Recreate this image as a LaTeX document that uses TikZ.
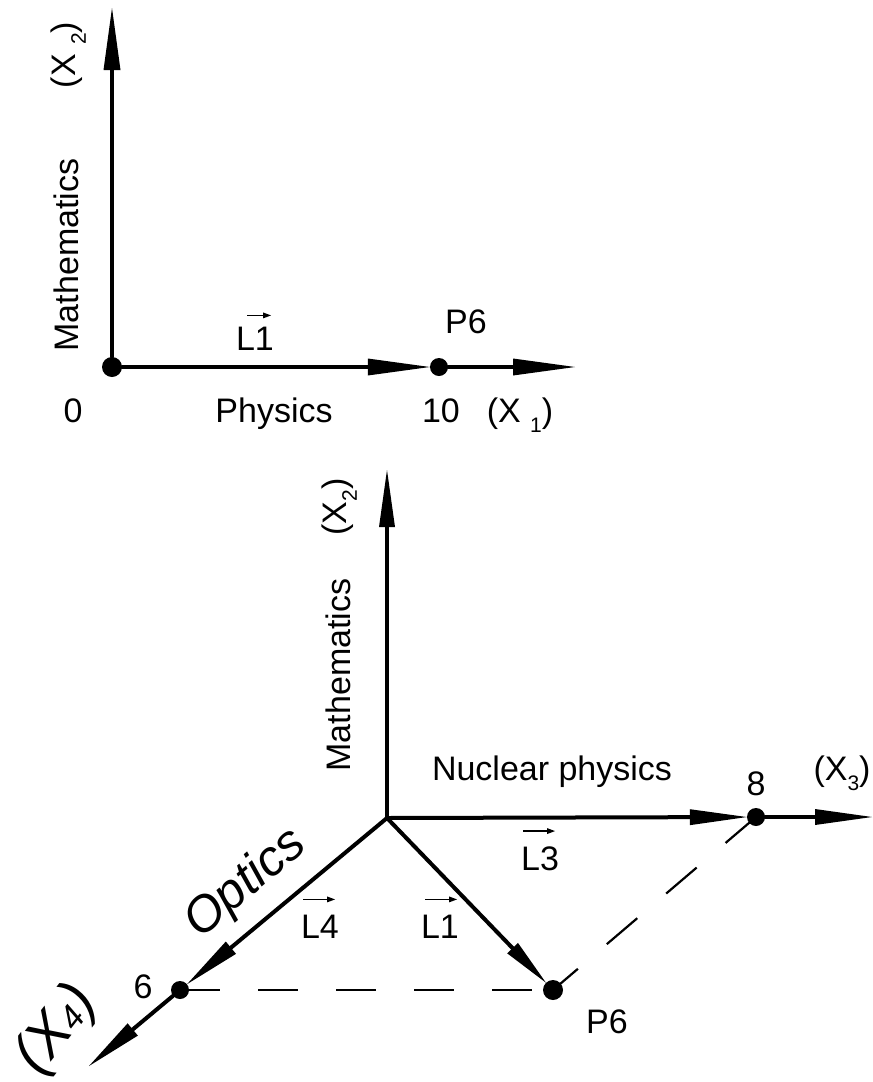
\documentclass[tikz,border=0pt]{standalone}
\usepackage{fontspec}
\setmainfont{Liberation Sans}
\usetikzlibrary{arrows.meta,backgrounds}
\newcommand{\sbs}[1]{\raisebox{-0.32em}{\fontsize{21}{21}\selectfont #1}}
\newcommand{\sbx}[1]{\raisebox{-0.02em}{\fontsize{34}{34}\selectfont\itshape #1}}
\begin{document}
\begin{tikzpicture}[x=1pt,y=-1pt,
  axis/.style={line width=4pt,line cap=round},
  tipA/.style={-{Triangle[length=62pt,width=17pt,line width=0pt]}},
  tipC/.style={-{Triangle[length=57pt,width=16pt,line width=0pt]}},
  tipD/.style={-{Triangle[length=48pt,width=15pt,line width=0pt]}},
  blob/.style={circle,fill=black,inner sep=0pt,minimum size=18pt},
  lab/.style={inner sep=0pt,font=\fontsize{34}{40}\selectfont},
  slab/.style={inner sep=0pt,font=\fontsize{50}{56}\selectfont\itshape},
  xlab/.style={inner sep=0pt,font=\fontsize{57}{62}\selectfont\itshape},
  vecarr/.style={line width=1.4pt,-{Triangle[length=8pt,width=6pt,line width=0pt]}},
  dsh/.style={line width=2.2pt,dash pattern=on 40pt off 38pt}]
\useasboundingbox (0,0) rectangle (873,1082);

% ---------- top diagram ----------
\node[blob,minimum size=20pt] (o1) at (112,367) {};
\node[blob] (p6t) at (439,367) {};
\coordinate (x2t) at (112,8);
\coordinate (x1t) at (575,367);
\draw[axis,tipA] (o1) -- (x2t);
\draw[axis,tipA] (o1) -- (p6t);
\draw[axis,tipA] (p6t) -- (x1t);

\node[lab,anchor=base,rotate=90] (matht) at (78,255) {Mathematics};
\node[lab,anchor=base,rotate=90] (x2lt) at (75,55) {(X \sbs{2})};
\node[lab,anchor=base] (zero) at (73,422) {0};
\node[lab,anchor=base] (phys) at (274,422) {Physics};
\node[lab,anchor=base] (ten) at (441,422) {10};
\node[lab,anchor=base] (x1l) at (520,422) {(X \sbs{1})};
\node[lab,anchor=base] (l1t) at (255,350) {L1};
\node[lab,anchor=base] (p6lt) at (466,333) {P6};
\draw[vecarr] ([xshift=-8pt,yshift=11pt]l1t.north) -- ([xshift=16pt,yshift=11pt]l1t.north);

% ---------- bottom diagram ----------
\coordinate (o2) at (387,818);
\coordinate (x2b) at (387,470);
\node[blob] (d8) at (756,817) {};
\coordinate (x3b) at (872,817);
\node[blob] (d6) at (180,990) {};
\coordinate (x4b) at (89,1066);
\node[blob,minimum size=20pt] (p6b) at (553,990) {};

\begin{pgfonlayer}{background}
\draw[dsh] (d6.center) -- (p6b.center);
\draw[dsh] (d8.center) -- (p6b.center);
\end{pgfonlayer}

\draw[axis,tipC] (o2) -- (x2b);
\draw[axis,tipC] (o2) -- (d8);
\draw[axis,tipC] (d8) -- (x3b);
\draw[axis,tipC] (o2) -- (d6);
\draw[axis,tipC] (d6) -- (x4b);
\draw[axis,tipD] (o2) -- (p6b);

\node[lab,anchor=base,rotate=90] (mathb) at (350,675) {Mathematics};
\node[lab,anchor=base,rotate=90] (x2lb) at (346,507) {(X\sbs{2})};
\node[lab,anchor=base] (nuc) at (552,780) {Nuclear physics};
\node[lab,anchor=base] (eight) at (756,795) {8};
\node[lab,anchor=base] (x3l) at (842,780) {(X\sbs{3})};
\node[lab,anchor=base] (l3) at (540,870) {L3};
\node[lab,anchor=base] (l4) at (320,938) {L4};
\node[lab,anchor=base] (l1b) at (440,938) {L1};
\node[lab,anchor=base] (p6lb) at (607,1033) {P6};
\node[lab,anchor=base] (six) at (143,998) {6};
\node[slab,rotate=40] (optics) at (246,884) {Optics};
\node[xlab,rotate=52] (x4l) at (57,1030) {(X\sbx{4})};

\draw[vecarr] ([xshift=-17pt,yshift=15pt]l3.north) -- ([xshift=15pt,yshift=15pt]l3.north);
\draw[vecarr] ([xshift=-17pt,yshift=15pt]l4.north) -- ([xshift=15pt,yshift=15pt]l4.north);
\draw[vecarr] ([xshift=-15pt,yshift=15pt]l1b.north) -- ([xshift=17pt,yshift=15pt]l1b.north);
\end{tikzpicture}
\end{document}
